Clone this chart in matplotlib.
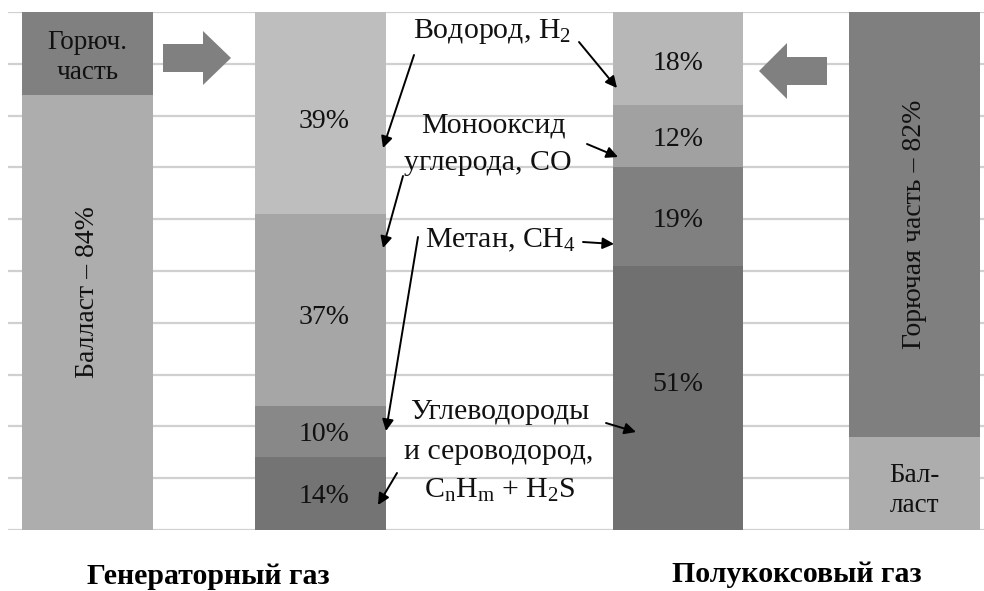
import matplotlib
matplotlib.use('Agg')
import matplotlib.pyplot as plt
from matplotlib.patches import Polygon

plt.rcParams['font.family'] = ['Liberation Serif', 'DejaVu Serif']
plt.rcParams['mathtext.fontset'] = 'custom'
plt.rcParams['mathtext.rm'] = 'Liberation Serif'
plt.rcParams['mathtext.it'] = 'Liberation Serif:italic'

# ---------------- data ----------------
gen_fuel_vals = [84, 16]            # генераторный газ: балласт, горючая часть
gen_comp_vals = [14, 10, 37, 39]    # CnHm+H2S, CH4, CO, H2
semi_comp_vals = [51, 19, 12, 18]   # CnHm+H2S, CH4, CO, H2
semi_fuel_vals = [18, 82]           # полукоксовый газ: балласт, горючая часть
group_labels = ['Генераторный газ', 'Полукоксовый газ']

# ---------------- layout / style ----------------
W, H = 984, 591
fig = plt.figure(figsize=(W / 100, H / 100), dpi=100)
FS = 20        # labels inside bars
FS_ANN = 21.5  # annotation texts
FS_CAT = 21.5  # group captions
TXT = '#111111'

def P(x, y):
    return (x / W, 1 - y / H)

ax = fig.add_axes([8 / W, 1 - 530 / H, (W - 8) / W, (530 - 12) / H])
ax.set_xlim(-0.338, 3.815)
ax.set_ylim(0, 100)
ax.set_yticks(range(0, 101, 10))
ax.yaxis.grid(True, color='#d0d0d0', lw=1.6)
ax.set_axisbelow(True)
for s in ax.spines.values():
    s.set_visible(False)
ax.tick_params(left=False, bottom=False, labelleft=False, labelbottom=False)

positions = [0.0, 0.99, 2.513, 3.521]
width = 0.557
stacks = [gen_fuel_vals, gen_comp_vals, semi_comp_vals, semi_fuel_vals]
colors = [
    ['#adadad', '#808080'],
    ['#747474', '#888888', '#a6a6a6', '#bebebe'],
    ['#707070', '#808080', '#a1a1a1', '#b7b7b7'],
    ['#adadad', '#7f7f7f'],
]
centers = []
for pos, vals, cols in zip(positions, stacks, colors):
    bottom = 0
    cs = []
    for v, c in zip(vals, cols):
        ax.bar(pos, v, width=width, bottom=bottom, color=c, edgecolor='none', zorder=2)
        cs.append(bottom + v / 2)
        bottom += v
    centers.append(cs)

def seg_label(i, j, s, dx=0, dy=0, **kw):
    ax.annotate(s, xy=(positions[i], centers[i][j]), xytext=(dx, dy),
                textcoords='offset pixels', ha='center', va='center',
                fontsize=kw.pop('fontsize', FS), color=TXT, zorder=5, **kw)

# percentage labels in component bars (pixel offsets for fine placement)
comp_dy = [[-3, -3, -8, -8], [13, -4, -3, -5]]
for k, idx in enumerate((1, 2)):
    for j, v in enumerate(stacks[idx]):
        seg_label(idx, j, f'{v}%', dx=4 if idx == 1 else 0, dy=comp_dy[k][j])

# bar 1 labels
seg_label(0, 0, f'Балласт – {gen_fuel_vals[0]}%', dy=20, rotation=90)
seg_label(0, 1, 'Горюч.\nчасть', dy=-4, fontsize=FS - 0.5, linespacing=1.25)
# bar 4 labels
seg_label(3, 1, f'Горючая часть – {semi_fuel_vals[1]}%', rotation=90)
seg_label(3, 0, 'Бал-\nласт', dy=-7, fontsize=FS - 0.5, linespacing=1.25)

# block arrows
def block_arrow(pts):
    poly = Polygon([P(x, y) for x, y in pts], closed=True, transform=fig.transFigure,
                   facecolor='#808080', edgecolor='none', zorder=1)
    fig.add_artist(poly)

block_arrow([(163, 44), (203, 44), (203, 31), (231, 58), (203, 85), (203, 72), (163, 72)])
block_arrow([(827, 57), (787, 57), (787, 43), (759, 71), (787, 99), (787, 85), (827, 85)])

# annotation texts
def txt(x, y, s, **kw):
    fig.text(*P(x, y), s, ha='center', va='center', fontsize=FS_ANN, color=TXT, zorder=5, **kw)

txt(492, 32, 'Водород, H$_2$')
txt(493, 125, 'Монооксид')
txt(488, 163, 'углерода, CO')
txt(500, 240, 'Метан, CH$_4$')
txt(500, 412, 'Углеводороды')
txt(499, 452, 'и сероводород,')
txt(500, 490, r'C$_\mathrm{n}$H$_\mathrm{m}$ + H$_2$S')

# pointer arrows
def arrow(start, end):
    ax.annotate('', xy=P(*end), xycoords='figure fraction',
                xytext=P(*start), textcoords='figure fraction',
                arrowprops=dict(arrowstyle='-|>', color='black', lw=1.4,
                                mutation_scale=17, shrinkA=0, shrinkB=0),
                annotation_clip=False, zorder=6)

arrow((414, 55), (383, 148))
arrow((579, 42), (617, 88))
arrow((587, 144), (618, 157))
arrow((403, 176), (383, 248))
arrow((583, 242), (614, 244))
arrow((418, 237), (386, 431))
arrow((606, 423), (636, 432))
arrow((397, 473), (378, 505))

# group labels
fig.text(*P(208, 577), group_labels[0], ha='center', va='center', fontsize=FS_CAT, fontweight='bold')
fig.text(*P(797, 574), group_labels[1], ha='center', va='center', fontsize=FS_CAT, fontweight='bold')

fig.savefig('out.png', dpi=100, facecolor='white')
